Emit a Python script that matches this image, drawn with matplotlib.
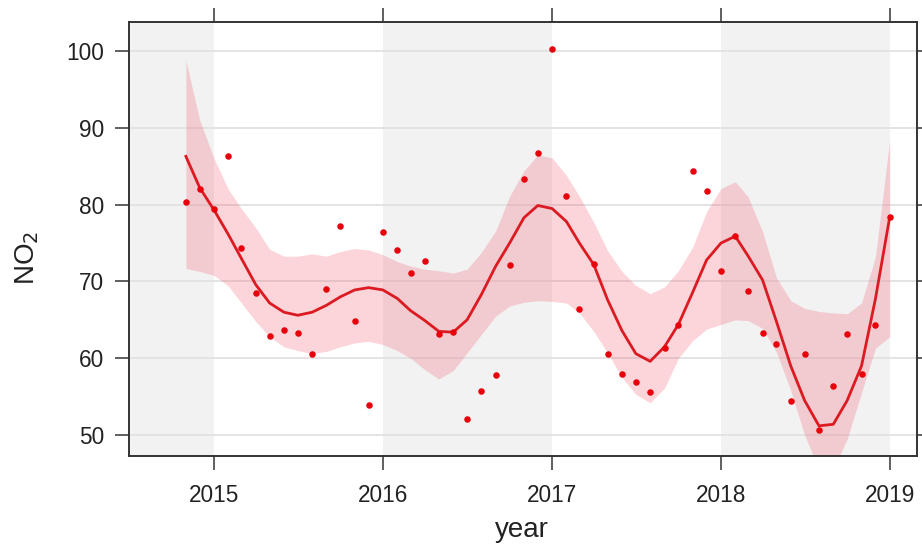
import numpy as np
import pandas as pd
import matplotlib
matplotlib.use('Agg')
import matplotlib.pyplot as plt

plt.rcParams['font.family'] = ['Liberation Sans', 'DejaVu Sans']

# monthly NO2 means, Nov 2014 - Jan 2019
months = pd.date_range('2014-11-01', '2019-01-01', freq='MS')

no2 = [80.4, 82.1, 79.4, 86.3, 74.3, 68.5, 62.9, 63.7, 63.3, 60.5,
       69.0, 77.2, 64.8, 53.9, 76.4, 74.1, 71.1, 72.7, 63.2, 63.4,
       52.1, 55.7, 57.8, 72.2, 83.4, 86.8, 100.3, 81.2, 66.4, 72.3,
       60.6, 57.9, 56.9, 55.6, 61.4, 64.3, 84.4, 81.8, 71.4, 75.9,
       68.7, 63.3, 61.8, 54.4, 60.5, 50.7, 56.4, 63.2, 57.9, 64.3,
       78.4]

# smooth trend and its confidence band
trend = [86.3, 82.2, 79.3, 76.1, 73.0, 69.6, 67.2, 66.0, 65.6, 66.0,
         66.9, 68.0, 68.9, 69.2, 68.9, 67.8, 66.2, 64.9, 63.5, 63.4,
         65.0, 68.3, 72.0, 75.0, 78.3, 79.9, 79.5, 77.8, 75.0, 72.2,
         67.6, 63.6, 60.6, 59.6, 61.5, 64.4, 68.6, 72.8, 75.0, 75.9,
         73.3, 70.2, 64.8, 59.0, 54.5, 51.2, 51.4, 54.5, 59.0, 67.7,
         78.4]

upper = [98.8, 91.0, 86.0, 82.0, 79.5, 77.0, 74.2, 73.3, 73.3, 73.6,
         73.3, 73.9, 74.3, 74.1, 73.5, 72.6, 72.0, 71.6, 71.4, 71.1,
         71.6, 73.8, 76.6, 81.1, 84.4, 86.5, 86.1, 83.8, 81.1, 77.7,
         74.0, 71.3, 69.5, 68.4, 69.3, 71.4, 74.5, 79.1, 82.1, 83.0,
         81.0, 76.5, 70.5, 67.5, 66.5, 66.1, 65.9, 65.8, 67.2, 73.2,
         88.4]

lower = [71.7, 71.3, 70.8, 69.4, 67.2, 64.8, 62.8, 61.5, 61.0, 60.6,
         60.9, 61.5, 62.0, 62.2, 61.8, 61.0, 60.0, 58.5, 57.3, 58.4,
         60.7, 63.1, 65.5, 66.8, 67.3, 67.5, 67.4, 67.2, 65.9, 63.5,
         60.7, 57.5, 55.3, 54.2, 56.1, 60.0, 62.3, 63.8, 64.4, 65.0,
         64.9, 63.9, 60.8, 55.8, 50.0, 45.5, 45.5, 49.5, 55.5, 61.3,
         62.8]

years = [2015, 2016, 2017, 2018, 2019]

fig = plt.figure(figsize=(9.22, 5.47), dpi=100)
ax = fig.add_axes([129/922, 91/547, 788/922, 434/547])

x0 = pd.Timestamp('2014-07-01')
x1 = pd.Timestamp('2019-03-01')

# alternating year shading
edges = [x0] + [pd.Timestamp(f'{y}-01-01') for y in years] + [x1]
for i in range(len(edges) - 1):
    if i % 2 == 0:
        ax.axvspan(edges[i], edges[i + 1], color='#f2f2f2', lw=0, zorder=0)

for v in range(50, 101, 10):
    ax.axhline(v, color='#e2e2e2', lw=1.3, zorder=1)

ax.fill_between(months, lower, upper, color='#f03c50', alpha=0.21, lw=0, zorder=2)
ax.plot(months, trend, color='#dc1a22', lw=2.0, zorder=3)
ax.scatter(months, no2, s=22, color='#e8000b', lw=0, zorder=4)

ax.set_xlim(x0, x1)
ax.set_ylim(47.27, 103.8)
ax.set_xticks([pd.Timestamp(f'{y}-01-01') for y in years])
ax.set_xticklabels([str(y) for y in years])
ax.set_yticks(range(50, 101, 10))

ax.tick_params(direction='out', length=10, width=1.2, color='#444444',
               labelsize=16.3, labelcolor='#222222', pad=8,
               top=True, right=True)
ax.tick_params(axis='x', pad=10)
for s in ax.spines.values():
    s.set_color('#333333')
    s.set_linewidth(1.4)

fig.text(27/922, 1 - 258/547, r'NO$_2$', rotation=90, fontsize=20,
         ha='center', va='center', color='#222222')
fig.text(522/922, 1 - 530/547, 'year', fontsize=20, ha='center', va='center',
         color='#222222')

fig.savefig('out.png', dpi=100)
